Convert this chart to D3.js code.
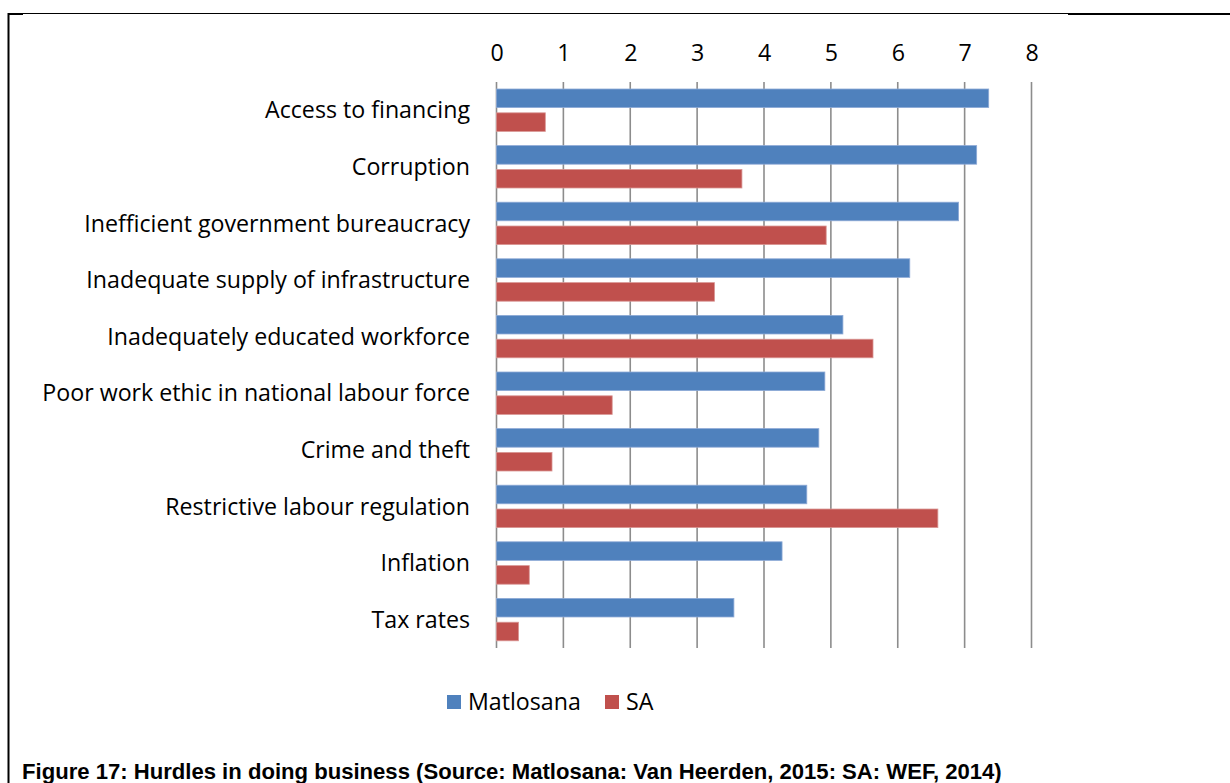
<!DOCTYPE html>
<html>
<head>
<meta charset="utf-8">
<script src="https://cdn.jsdelivr.net/npm/d3@7"></script>
<style>
  html, body { margin: 0; padding: 0; background: #fff; }
  svg { display: block; }
</style>
</head>
<body>
<svg id="chart" width="1230" height="783"></svg>
<script>
// Hurdles in doing business: Matlosana survey vs. national (SA) ranking scores
const categories = [
  "Access to financing",
  "Corruption",
  "Inefficient government bureaucracy",
  "Inadequate supply of infrastructure",
  "Inadequately educated workforce",
  "Poor work ethic in national labour force",
  "Crime and theft",
  "Restrictive labour regulation",
  "Inflation",
  "Tax rates"
];
const seriesNames = ["Matlosana", "SA"];
const matlosana = [7.36, 7.18, 6.91, 6.18, 5.18, 4.91, 4.82, 4.64, 4.27, 3.55];
const sa        = [0.73, 3.67, 4.93, 3.26, 5.63, 1.73, 0.83, 6.60, 0.49, 0.33];
const tickValues = [0, 1, 2, 3, 4, 5, 6, 7, 8];
const captionText = "Figure 17: Hurdles in doing business (Source: Matlosana: Van Heerden, 2015: SA: WEF, 2014)";

const colors = { Matlosana: "#4F81BD", SA: "#C0504D" };
const edges  = { Matlosana: "#8EAAD6", SA: "#D99694" };
const labelFont = "'Open Sans', Lato, sans-serif";
const labelSize = 23.2;

const svg = d3.select("#chart");

// Frame around the figure
const frame = svg.append("g").attr("fill", "none").attr("stroke", "#000");
frame.append("line").attr("x1", 8).attr("x2", 1068).attr("y1", 13.5).attr("y2", 13.5).attr("stroke-width", 1.2);
frame.append("line").attr("x1", 1068).attr("x2", 1230).attr("y1", 14).attr("y2", 14).attr("stroke-width", 2);
frame.append("line").attr("x1", 8.5).attr("x2", 8.5).attr("y1", 13).attr("y2", 783).attr("stroke-width", 2);
frame.append("line").attr("x1", 8).attr("x2", 23).attr("y1", 14).attr("y2", 14).attr("stroke-width", 2);

// Scales
const x = d3.scaleLinear().domain([0, 8]).range([496.5, 1031.5]);
const y = d3.scaleBand().domain(categories).range([82, 648]).paddingInner(0).paddingOuter(0);
const yInner = d3.scaleBand().domain(seriesNames)
  .range([7, y.bandwidth() - 7.2]).paddingInner(0.22).paddingOuter(0);

// Vertical gridlines
svg.append("g").selectAll("line")
  .data(tickValues)
  .join("line")
  .attr("x1", d => x(d)).attr("x2", d => x(d))
  .attr("y1", y.range()[0]).attr("y2", y.range()[1])
  .attr("stroke", "#8C8C8C").attr("stroke-width", 1.6);

// Top value axis (labels only)
const axis = svg.append("g")
  .attr("transform", "translate(0,61)")
  .call(d3.axisTop(x).tickValues(tickValues).tickSize(0).tickPadding(0).tickFormat(d3.format("d")));
axis.select(".domain").remove();
axis.selectAll("text")
  .attr("font-family", labelFont).attr("font-size", labelSize).attr("fill", "#000")
  .attr("dy", "-0.02em");

// Category axis labels
const yAxis = svg.append("g")
  .attr("transform", "translate(470,0)")
  .call(d3.axisLeft(y).tickSize(0).tickPadding(0));
yAxis.select(".domain").remove();
yAxis.selectAll("text")
  .attr("font-family", labelFont).attr("font-size", labelSize).attr("fill", "#000")
  .attr("dy", "0.35em");

// Bars
const rows = categories.map((c, i) => ({ category: c, Matlosana: matlosana[i], SA: sa[i] }));
const groups = svg.append("g").selectAll("g")
  .data(rows)
  .join("g")
  .attr("transform", d => `translate(0,${y(d.category)})`);

groups.selectAll("rect")
  .data(d => seriesNames.map(s => ({ series: s, value: d[s] })))
  .join("rect")
  .attr("x", x(0))
  .attr("y", d => yInner(d.series))
  .attr("width", d => x(d.value) - x(0))
  .attr("height", yInner.bandwidth())
  .attr("fill", d => colors[d.series])
  .attr("stroke", d => edges[d.series])
  .attr("stroke-width", 0.8);

// Legend
const legend = svg.append("g").attr("transform", "translate(447,702)");
const legendItems = [
  { name: "Matlosana", dx: 0 },
  { name: "SA", dx: 158 }
];
const li = legend.selectAll("g").data(legendItems).join("g")
  .attr("transform", d => `translate(${d.dx},0)`);
li.append("rect")
  .attr("x", 0).attr("y", -7).attr("width", 14).attr("height", 14)
  .attr("fill", d => colors[d.name]);
li.append("text")
  .attr("x", 21).attr("y", 0).attr("dy", "0.35em")
  .attr("font-family", labelFont).attr("font-size", labelSize).attr("fill", "#000")
  .text(d => d.name);

// Caption
svg.append("text")
  .attr("x", 22).attr("y", 779)
  .attr("font-family", "'Liberation Sans', Arial, sans-serif")
  .attr("font-weight", "bold").attr("font-size", 22.1).attr("fill", "#000")
  .text(captionText);
</script>
</body>
</html>
